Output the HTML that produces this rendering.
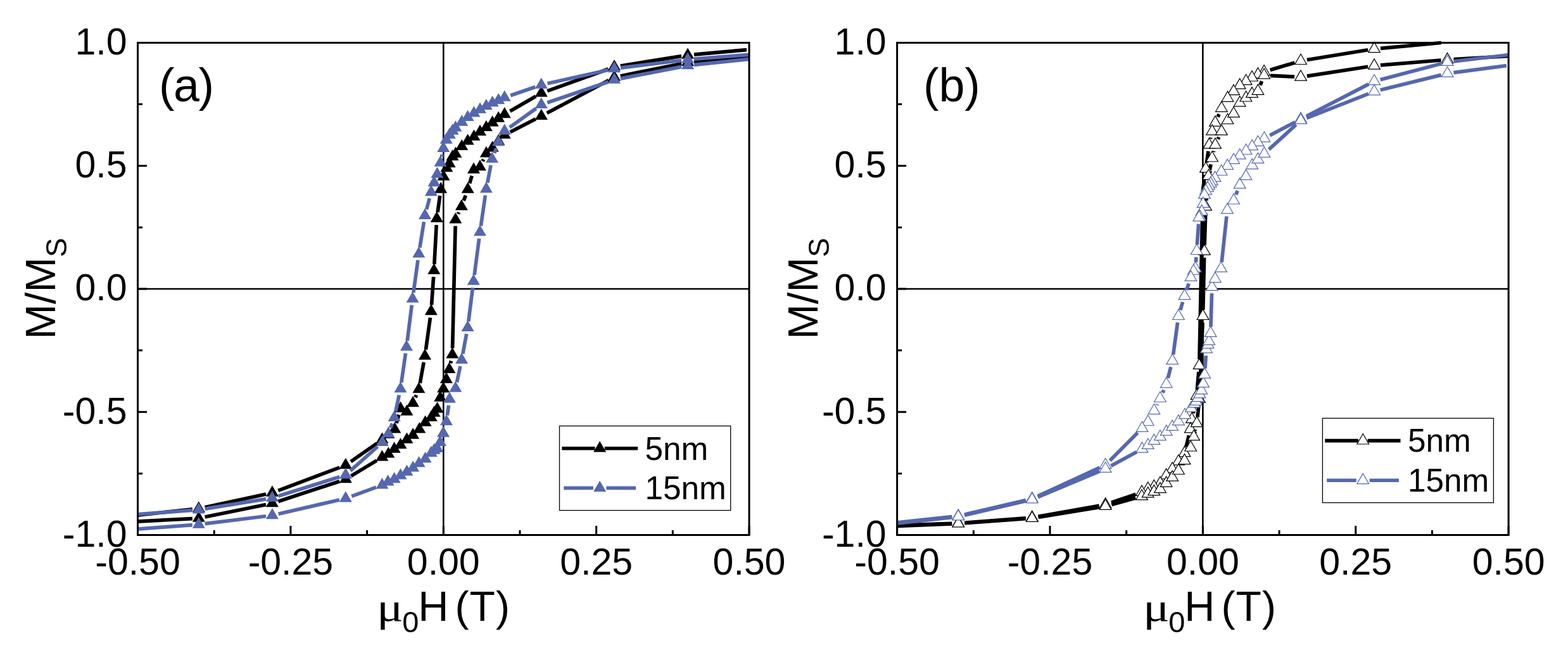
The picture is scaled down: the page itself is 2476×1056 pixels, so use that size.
<!DOCTYPE html>
<html><head><meta charset="utf-8"><title>M/Ms vs field</title>
<style>html,body{margin:0;padding:0;background:#fff;}svg{display:block;}</style>
</head><body>
<svg width="2476" height="1056" viewBox="0 0 2476 1056">
<rect width="100%" height="100%" fill="#fff"/>
<clipPath id="clipa"><rect x="217.5" y="0" width="965.5" height="1056"/></clipPath>
<line x1="217.5" y1="456" x2="1183" y2="456" stroke="#000" stroke-width="2.6"/>
<line x1="700.25" y1="67.5" x2="700.25" y2="844.5" stroke="#000" stroke-width="2.6"/>
<g clip-path="url(#clipa)">
<path d="M1179.04 78.6L1095.96 86.1M1076.13 88.58L979.87 104.02M960.59 108.98L864.21 143.62M846.14 152L805.36 175.5M698.29 288.77L698.21 289.13M694.73 308.81L691.07 335.19M689.16 355.09L685.84 417.01M684.6 436.98L681.5 481.42M679.42 501.3L672.38 552M669.2 571.74L663.2 604.66M657.47 623.7L655.93 627.3M629.79 654.63L626.01 668.07M595.21 699.73L553.99 728.57M536.44 737.82L439.26 774.38M420.12 780L323.58 800.7M303.86 803.87L200 815" fill="none" stroke="#000" stroke-width="5.7" stroke-linecap="butt"/>
<path d="M200 824L303.81 818.53M323.6 816.02L420.1 796.58M439.4 791.48L536.3 759.72M554.35 751.42L594.85 726.88M711.45 573.41L712.25 569.59M714.53 549.8L719.07 356.7M723.49 337.62L724.61 335.18M732.24 316.71L735.26 308.49M741.56 289.52L745.14 277.48M762.13 254.54L763.57 251.46M805.6 208.44L845.9 187.76M863.63 178.51L961.17 126.69M979.8 120.01L1076.2 100.49M1095.96 97.58L1200 88" fill="none" stroke="#000" stroke-width="5.7" stroke-linecap="butt"/>
<path d="M1086 75.45L1076 92.77L1096 92.77ZM970 94.05L960 111.37L980 111.37ZM854.8 135.45L844.8 152.77L864.8 152.77ZM796.7 168.95L786.7 186.27L806.7 186.27ZM787.1 175.45L777.1 192.77L797.1 192.77ZM777.6 182.25L767.6 199.57L787.6 199.57ZM767.8 189.65L757.8 206.97L777.8 206.97ZM758 196.75L748 214.07L768 214.07ZM748.4 204.55L738.4 221.87L758.4 221.87ZM738.6 211.25L728.6 228.57L748.6 228.57ZM729.2 219.75L719.2 237.07L739.2 237.07ZM719.4 231.55L709.4 248.87L729.4 248.87ZM714.5 235.95L704.5 253.27L724.5 253.27ZM709.6 246.85L699.6 264.17L719.6 264.17ZM705.3 253.95L695.3 271.27L715.3 271.27ZM700.4 267.45L690.4 284.77L710.4 284.77ZM696.1 287.35L686.1 304.67L706.1 304.67ZM689.7 333.55L679.7 350.87L699.7 350.87ZM685.3 415.45L675.3 432.77L695.3 432.77ZM680.8 479.85L670.8 497.17L690.8 497.17ZM671 550.35L661 567.67L681 567.67ZM661.4 602.95L651.4 620.27L671.4 620.27ZM652 624.95L642 642.27L662 642.27ZM642.4 638.45L632.4 655.77L652.4 655.77ZM632.5 633.45L622.5 650.77L642.5 650.77ZM623.3 666.15L613.3 683.47L633.3 683.47ZM613.3 674.45L603.3 691.77L623.3 691.77ZM603.4 682.45L593.4 699.77L613.4 699.77ZM545.8 722.75L535.8 740.07L555.8 740.07ZM429.9 766.35L419.9 783.67L439.9 783.67ZM313.8 791.25L303.8 808.57L323.8 808.57Z" fill="#000"/>
<path d="M313.8 806.45L303.8 823.77L323.8 823.77ZM429.9 783.05L419.9 800.37L439.9 800.37ZM545.8 745.05L535.8 762.37L555.8 762.37ZM603.4 710.15L593.4 727.47L613.4 727.47ZM613.3 705.15L603.3 722.47L623.3 722.47ZM622.6 697.35L612.6 714.67L632.6 714.67ZM632.5 690.95L622.5 708.27L642.5 708.27ZM642.4 682.45L632.4 699.77L652.4 699.77ZM652.1 675.35L642.1 692.67L662.1 692.67ZM662.3 666.15L652.3 683.47L672.3 683.47ZM671.6 655.45L661.6 672.77L681.6 672.77ZM680.8 647.65L670.8 664.97L690.8 664.97ZM685.5 640.45L675.5 657.77L695.5 657.77ZM690.5 634.15L680.5 651.47L700.5 651.47ZM695.2 616.45L685.2 633.77L705.2 633.77ZM700.1 602.25L690.1 619.57L710.1 619.57ZM704.8 587.35L694.8 604.67L714.8 604.67ZM709.4 571.65L699.4 588.97L719.4 588.97ZM714.3 548.25L704.3 565.57L724.3 565.57ZM719.3 335.15L709.3 352.47L729.3 352.47ZM728.8 314.55L718.8 331.87L738.8 331.87ZM738.7 287.55L728.7 304.87L748.7 304.87ZM748 256.35L738 273.67L758 273.67ZM757.9 252.05L747.9 269.37L767.9 269.37ZM767.8 230.85L757.8 248.17L777.8 248.17ZM777.6 222.25L767.6 239.57L787.6 239.57ZM787.1 211.45L777.1 228.77L797.1 228.77ZM796.7 201.45L786.7 218.77L806.7 218.77ZM854.8 171.65L844.8 188.97L864.8 188.97ZM970 110.45L960 127.77L980 127.77ZM1086 86.95L1076 104.27L1096 104.27Z" fill="#000"/>
<path d="M1200 85L1095.97 93.21M1076.08 95.23L979.92 107.17M960.24 110.57L864.56 131.83M845.34 137.25L806.16 150.75M698.18 243.99L697.52 247.21M678.23 313.06L673.57 330.64M669.41 350.17L662.89 390.83M659.93 410.61L652.87 461.89M650.25 481.72L643.15 537.78M640.48 557.6L633.82 603.9M630.29 623.57L624.71 649.43M619.19 668.6L616.71 675.4M596.32 704.93L553.28 743.07M536.26 752.69L439.44 783.01M420.03 787.59L323.67 803.11M303.83 805.43L200 813" fill="none" stroke="#5567AF" stroke-width="5.7" stroke-linecap="butt"/>
<path d="M200 836.3L303.83 828.64M323.72 826.67L419.98 814.73M439.64 811.26L536.06 789.04M555.19 783.36L594.01 769.14M706.29 655.7L708.51 639.9M721.42 603.33L726.88 578.07M730.83 558.47L736.67 527.03M739.76 507.28L746.54 454.02M749.09 434.18L756.61 376.52M759.34 356.7L766.36 308.3M769.71 288.58L775.09 260.82M780.57 241.66L783.53 233.94M804.84 200.99L846.66 171.11M864.26 162.07L960.54 129.23M979.82 124.1L1076.18 105.4M1095.95 102.45L1200 91.5" fill="none" stroke="#5567AF" stroke-width="5.7" stroke-linecap="butt"/>
<path d="M1086 82.45L1076 99.77L1096 99.77ZM970 96.85L960 114.17L980 114.17ZM854.8 122.45L844.8 139.77L864.8 139.77ZM796.7 142.45L786.7 159.77L806.7 159.77ZM787.1 146.95L777.1 164.27L797.1 164.27ZM777.6 150.95L767.6 168.27L787.6 168.27ZM767.8 155.95L757.8 173.27L777.8 173.27ZM758 161.45L748 178.77L768 178.77ZM748.4 167.15L738.4 184.47L758.4 184.47ZM738.6 173.75L728.6 191.07L748.6 191.07ZM729.2 181.35L719.2 198.67L739.2 198.67ZM719.4 190.15L709.4 207.47L729.4 207.47ZM714.5 195.15L704.5 212.47L724.5 212.47ZM709.8 201.45L699.8 218.77L719.8 218.77ZM704.7 209.35L694.7 226.67L714.7 226.67ZM700.2 222.65L690.2 239.97L710.2 239.97ZM695.5 245.45L685.5 262.77L705.5 262.77ZM690.4 263.45L680.4 280.77L700.4 280.77ZM685.5 276.95L675.5 294.27L695.5 294.27ZM680.8 291.85L670.8 309.17L690.8 309.17ZM671 328.75L661 346.07L681 346.07ZM661.3 389.15L651.3 406.47L671.3 406.47ZM651.5 460.25L641.5 477.57L661.5 477.57ZM641.9 536.15L631.9 553.47L651.9 553.47ZM632.4 602.25L622.4 619.57L642.4 619.57ZM622.6 647.65L612.6 664.97L632.6 664.97ZM613.3 673.25L603.3 690.57L623.3 690.57ZM603.8 686.75L593.8 704.07L613.8 704.07ZM545.8 738.15L535.8 755.47L555.8 755.47ZM429.9 774.45L419.9 791.77L439.9 791.77ZM313.8 793.15L303.8 810.47L323.8 810.47Z" fill="#5567AF"/>
<path d="M313.8 816.35L303.8 833.67L323.8 833.67ZM429.9 801.95L419.9 819.27L439.9 819.27ZM545.8 775.25L535.8 792.57L555.8 792.57ZM603.4 754.15L593.4 771.47L613.4 771.47ZM612.6 749.25L602.6 766.57L622.6 766.57ZM622.6 744.95L612.6 762.27L632.6 762.27ZM632.5 739.25L622.5 756.57L642.5 756.57ZM642.4 733.55L632.4 750.87L652.4 750.87ZM652.1 727.15L642.1 744.47L662.1 744.47ZM661.6 720.05L651.6 737.37L671.6 737.37ZM671.6 712.95L661.6 730.27L681.6 730.27ZM680.8 703.75L670.8 721.07L690.8 721.07ZM685.5 699.45L675.5 716.77L695.5 716.77ZM690.5 696.65L680.5 713.97L700.5 713.97ZM695 686.75L685 704.07L705 704.07ZM700 672.55L690 689.87L710 689.87ZM704.9 654.05L694.9 671.37L714.9 671.37ZM709.9 618.45L699.9 635.77L719.9 635.77ZM719.3 601.55L709.3 618.87L729.3 618.87ZM729 556.75L719 574.07L739 574.07ZM738.5 505.65L728.5 522.97L748.5 522.97ZM747.8 432.55L737.8 449.87L757.8 449.87ZM757.9 355.05L747.9 372.37L767.9 372.37ZM767.8 286.85L757.8 304.17L777.8 304.17ZM777 239.45L767 256.77L787 256.77ZM787.1 213.05L777.1 230.37L797.1 230.37ZM796.7 195.25L786.7 212.57L806.7 212.57ZM854.8 153.75L844.8 171.07L864.8 171.07ZM970 114.45L960 131.77L980 131.77ZM1086 91.95L1076 109.27L1096 109.27Z" fill="#5567AF"/>
</g>
<rect x="217.5" y="67.5" width="965.5" height="777" fill="none" stroke="#000" stroke-width="3"/>
<path d="M217.5 844.5V830M338.19 844.5V837M458.88 844.5V830M579.56 844.5V837M700.25 844.5V830M820.94 844.5V837M941.62 844.5V830M1062.31 844.5V837M1183 844.5V830M217.5 844.5H232M217.5 747.38H225M217.5 650.25H232M217.5 553.12H225M217.5 456H232M217.5 358.88H225M217.5 261.75H232M217.5 164.62H225M217.5 67.5H232" stroke="#000" stroke-width="3" fill="none"/>
<g font-family="Liberation Sans, Arial, sans-serif" font-size="59" fill="#000">
<text x="200.5" y="85.8" text-anchor="end">1.0</text>
<text x="200.5" y="280.05" text-anchor="end">0.5</text>
<text x="200.5" y="474.3" text-anchor="end">0.0</text>
<text x="200.5" y="668.55" text-anchor="end">-0.5</text>
<text x="200.5" y="862.8" text-anchor="end">-1.0</text>
<text x="217.5" y="907" text-anchor="middle">-0.50</text>
<text x="458.88" y="907" text-anchor="middle">-0.25</text>
<text x="700.25" y="907" text-anchor="middle">0.00</text>
<text x="941.62" y="907" text-anchor="middle">0.25</text>
<text x="1183" y="907" text-anchor="middle">0.50</text>
</g>
<text transform="translate(87.1,535.5) rotate(-90)" font-family="Liberation Sans, Arial, sans-serif" font-size="66.6" fill="#000">M/M<tspan font-size="46" dy="18">S</tspan></text>
<g font-family="Liberation Sans, Arial, sans-serif" fill="#000">
<text transform="translate(594.9,980) scale(1.18,0.95)" font-family="Liberation Serif, serif" font-size="66">μ</text>
<text x="635.3" y="998.3" font-size="47">0</text>
<text x="660.3" y="979.9" font-size="66.6">H</text>
<text x="718.5" y="979.9" font-size="66">(</text>
<text x="741.4" y="979.9" font-size="66">T</text>
<text x="783" y="979.9" font-size="66">)</text>
</g>
<text x="251" y="159.5" font-family="Liberation Sans, Arial, sans-serif" font-size="73.5" letter-spacing="-1.4" fill="#000">(a)</text>
<rect x="883.5" y="672.4" width="270.2" height="133.2" fill="#fff" stroke="#000" stroke-width="1.3"/>
<path d="M887.3 707.8L939.5 707.8M954.7 707.8L1007.1 707.8" fill="none" stroke="#000" stroke-width="5.6" stroke-linecap="butt"/>
<path d="M890.3 770.4L936.8 770.32M957.4 770.32L1004 770.4" fill="none" stroke="#5567AF" stroke-width="5.6" stroke-linecap="butt"/>
<path d="M947.1 696.25L937.1 713.57L957.1 713.57Z" fill="#000"/>
<path d="M947.1 758.75L937.1 776.07L957.1 776.07Z" fill="#5567AF"/>
<g font-family="Liberation Sans, Arial, sans-serif" font-size="51.3" fill="#000"><text x="1018.4" y="725.8">5nm</text><text x="1018.5" y="787.9">15nm</text></g>
<clipPath id="clipb"><rect x="1416.6" y="0" width="965.5" height="1056"/></clipPath>
<line x1="1416.6" y1="456" x2="2382.1" y2="456" stroke="#000" stroke-width="2.6"/>
<line x1="1899.35" y1="67.5" x2="1899.35" y2="844.5" stroke="#000" stroke-width="2.6"/>
<g clip-path="url(#clipb)">
<path d="M2275.84 67.51L2179.96 76.29M2160.13 78.81L2063.87 94.49M2044.42 98.96L2005.68 110.54M1924.92 180.07L1922.98 184.53M1911.88 217.27L1911.52 218.93M1907.99 238.6L1905.41 256.6M1902.67 276.41L1899.5 300M1899.5 300L1893.91 567M1892.83 586.96L1890.37 615.04M1887.51 634.8L1883.99 652.2M1877.4 687.21L1872.9 705.49M1793.54 780.13L1755.06 793.27M1735.75 798.24L1639.55 815.26M1619.73 817.77L1523.17 825.23M1503.2 826.31L1400 829.5" fill="none" stroke="#000" stroke-width="5.7" stroke-linecap="butt"/>
<path d="M1400 831L1503.21 826.9M1523.17 825.77L1619.73 818.73M1639.57 816.38L1735.73 800.62M1755.25 796.39L1793.35 786.11M1874.76 718.15L1875.94 715.65M1887.26 679.74L1887.64 678.06M1890.89 658.36L1892.91 639.94M1894.42 620.01L1899.08 509.09M1899.72 489.1L1901.58 406.8M1902.11 386.8L1903.69 336.5M1904.88 316.54L1907.42 287.96M1910.27 268.2L1912.03 259.4M1916.33 239.87L1916.67 238.43M1923.23 219.64L1924.67 216.56M1990 134.57L1992.5 128.13M2006.09 119.3L2044.01 121.2M2063.88 120.17L2160.12 105.23M2179.97 102.88L2275.53 95.02M2295.48 93.62L2400 87.5" fill="none" stroke="#000" stroke-width="5.7" stroke-linecap="butt"/>
<g fill="#fff" stroke="#000" stroke-width="1.2" stroke-linejoin="miter"><path d="M2170 66.4L2160.65 82.59L2179.35 82.59Z"/><path d="M2054 85.3L2044.65 101.49L2063.35 101.49Z"/><path d="M1996.1 102.6L1986.75 118.79L2005.45 118.79Z"/><path d="M1986.4 106.9L1977.05 123.09L1995.75 123.09Z"/><path d="M1977 111.8L1967.65 127.99L1986.35 127.99Z"/><path d="M1967.5 117.5L1958.15 133.69L1976.85 133.69Z"/><path d="M1957.7 123.9L1948.35 140.09L1967.05 140.09Z"/><path d="M1948 133.4L1938.65 149.59L1957.35 149.59Z"/><path d="M1938.5 144.1L1929.15 160.29L1947.85 160.29Z"/><path d="M1928.9 160.1L1919.55 176.29L1938.25 176.29Z"/><path d="M1919 182.9L1909.65 199.09L1928.35 199.09Z"/><path d="M1914 196.7L1904.65 212.89L1923.35 212.89Z"/><path d="M1909.4 217.9L1900.05 234.09L1918.75 234.09Z"/><path d="M1904 255.7L1894.65 271.89L1913.35 271.89Z"/><path d="M1893.7 566.2L1884.35 582.39L1903.05 582.39Z"/><path d="M1889.5 614.2L1880.15 630.39L1898.85 630.39Z"/><path d="M1882 651.2L1872.65 667.39L1891.35 667.39Z"/><path d="M1879.8 666.7L1870.45 682.89L1889.15 682.89Z"/><path d="M1870.5 704.4L1861.15 720.59L1879.85 720.59Z"/><path d="M1860.9 717.7L1851.55 733.89L1870.25 733.89Z"/><path d="M1851.2 729.6L1841.85 745.79L1860.55 745.79Z"/><path d="M1841.6 739.6L1832.25 755.79L1850.95 755.79Z"/><path d="M1832 752.1L1822.65 768.29L1841.35 768.29Z"/><path d="M1822.3 757.4L1812.95 773.59L1831.65 773.59Z"/><path d="M1812.7 760.8L1803.35 776.99L1822.05 776.99Z"/><path d="M1803 766.1L1793.65 782.29L1812.35 782.29Z"/><path d="M1745.6 785.7L1736.25 801.89L1754.95 801.89Z"/><path d="M1629.7 806.2L1620.35 822.39L1639.05 822.39Z"/><path d="M1513.2 815.2L1503.85 831.39L1522.55 831.39Z"/></g>
<g fill="#fff" stroke="#000" stroke-width="1.2" stroke-linejoin="miter"><path d="M1513.2 815.7L1503.85 831.89L1522.55 831.89Z"/><path d="M1629.7 807.2L1620.35 823.39L1639.05 823.39Z"/><path d="M1745.6 788.2L1736.25 804.39L1754.95 804.39Z"/><path d="M1803 772.7L1793.65 788.89L1812.35 788.89Z"/><path d="M1812.7 768.7L1803.35 784.89L1822.05 784.89Z"/><path d="M1822.3 765.4L1812.95 781.59L1831.65 781.59Z"/><path d="M1832 761.4L1822.65 777.59L1841.35 777.59Z"/><path d="M1841.6 752.1L1832.25 768.29L1850.95 768.29Z"/><path d="M1851.2 742.9L1841.85 759.09L1860.55 759.09Z"/><path d="M1860.9 732.3L1851.55 748.49L1870.25 748.49Z"/><path d="M1870.5 716.4L1861.15 732.59L1879.85 732.59Z"/><path d="M1880.2 695.8L1870.85 711.99L1889.55 711.99Z"/><path d="M1885.1 678.7L1875.75 694.89L1894.45 694.89Z"/><path d="M1889.8 657.5L1880.45 673.69L1899.15 673.69Z"/><path d="M1894 619.2L1884.65 635.39L1903.35 635.39Z"/><path d="M1899.5 488.3L1890.15 504.49L1908.85 504.49Z"/><path d="M1901.8 386L1892.45 402.19L1911.15 402.19Z"/><path d="M1904 315.7L1894.65 331.89L1913.35 331.89Z"/><path d="M1908.3 267.2L1898.95 283.39L1917.65 283.39Z"/><path d="M1914 238.8L1904.65 254.99L1923.35 254.99Z"/><path d="M1919 217.9L1909.65 234.09L1928.35 234.09Z"/><path d="M1928.9 196.7L1919.55 212.89L1938.25 212.89Z"/><path d="M1938.5 179.3L1929.15 195.49L1947.85 195.49Z"/><path d="M1948 168.7L1938.65 184.89L1957.35 184.89Z"/><path d="M1957.7 151.6L1948.35 167.79L1967.05 167.79Z"/><path d="M1967.5 143.8L1958.15 159.99L1976.85 159.99Z"/><path d="M1977 137.4L1967.65 153.59L1986.35 153.59Z"/><path d="M1986.4 133.1L1977.05 149.29L1995.75 149.29Z"/><path d="M1996.1 108L1986.75 124.19L2005.45 124.19Z"/><path d="M2054 110.9L2044.65 127.09L2063.35 127.09Z"/><path d="M2170 92.9L2160.65 109.09L2179.35 109.09Z"/><path d="M2285.5 83.4L2276.15 99.59L2294.85 99.59Z"/></g>
<path d="M2400 84.5L2295.43 96.83M2275.83 100.54L2179.67 125.76M2161.11 132.88L2062.89 183.42M2045.16 192.68L2005.24 213.82M1892.62 353.48L1890.38 386.12M1888.94 406.07L1888.36 413.83M1877.26 447.46L1873.74 457.74M1867.62 476.78L1863.78 489.52M1859.55 509.01L1852.65 559.59M1848.81 579.18L1844.29 596.72M1837.8 615.57L1835.9 619.93M1827.47 638.06L1826.83 639.34M1796.44 683.08L1752.66 726.92M1736.51 738.18L1638.79 783.12M1619.96 789.57L1522.94 812.23M1503.26 815.55L1400 826.5" fill="none" stroke="#5567AF" stroke-width="5.7" stroke-linecap="butt"/>
<path d="M1400 828L1503.26 816.6M1522.94 813.24L1619.96 790.76M1638.92 784.64L1736.38 743.86M1754.4 735.24L1794.7 713.46M1902.9 581.52L1904.3 561.38M1911.9 516L1913.5 463M1929.17 413.86L1936.93 341.44M1951.7 307.27L1954.1 301.03M2003.78 235.95L2046.62 196.75M2063.31 186.34L2160.69 148.06M2179.71 142.01L2275.79 118.39M2295.41 114.68L2378.79 103.62" fill="none" stroke="#5567AF" stroke-width="5.7" stroke-linecap="butt"/>
<g fill="#fff" stroke="#5567AF" stroke-width="1.2" stroke-linejoin="miter"><path d="M2285.5 87.2L2276.15 103.39L2294.85 103.39Z"/><path d="M2170 117.5L2160.65 133.69L2179.35 133.69Z"/><path d="M2054 177.2L2044.65 193.39L2063.35 193.39Z"/><path d="M1996.4 207.7L1987.05 223.89L2005.75 223.89Z"/><path d="M1986.4 214.1L1977.05 230.29L1995.75 230.29Z"/><path d="M1977.2 220.5L1967.85 236.69L1986.55 236.69Z"/><path d="M1967.5 227.3L1958.15 243.49L1976.85 243.49Z"/><path d="M1957.7 234.7L1948.35 250.89L1967.05 250.89Z"/><path d="M1948.1 242.1L1938.75 258.29L1957.45 258.29Z"/><path d="M1938.1 251.1L1928.75 267.29L1947.45 267.29Z"/><path d="M1928.6 260.3L1919.25 276.49L1937.95 276.49Z"/><path d="M1918.5 270.2L1909.15 286.39L1927.85 286.39Z"/><path d="M1913.8 275.7L1904.45 291.89L1923.15 291.89Z"/><path d="M1911.7 279.1L1902.35 295.29L1921.05 295.29Z"/><path d="M1909.1 282.5L1899.75 298.69L1918.45 298.69Z"/><path d="M1907 286.3L1897.65 302.49L1916.35 302.49Z"/><path d="M1904 290.6L1894.65 306.79L1913.35 306.79Z"/><path d="M1901.9 297L1892.55 313.19L1911.25 313.19Z"/><path d="M1899.7 311.1L1890.35 327.29L1909.05 327.29Z"/><path d="M1897.6 323.4L1888.25 339.59L1906.95 339.59Z"/><path d="M1894.6 331.2L1885.25 347.39L1903.95 347.39Z"/><path d="M1893.3 332.7L1883.95 348.89L1902.65 348.89Z"/><path d="M1889.7 385.3L1880.35 401.49L1899.05 401.49Z"/><path d="M1887.6 413L1878.25 429.19L1896.95 429.19Z"/><path d="M1884.7 417.3L1875.35 433.49L1894.05 433.49Z"/><path d="M1880.5 427.2L1871.15 443.39L1889.85 443.39Z"/><path d="M1870.5 456.4L1861.15 472.59L1879.85 472.59Z"/><path d="M1860.9 488.3L1851.55 504.49L1870.25 504.49Z"/><path d="M1851.3 558.7L1841.95 574.89L1860.65 574.89Z"/><path d="M1841.8 595.6L1832.45 611.79L1851.15 611.79Z"/><path d="M1831.9 618.3L1822.55 634.49L1841.25 634.49Z"/><path d="M1822.4 637.5L1813.05 653.69L1831.75 653.69Z"/><path d="M1812.7 655.3L1803.35 671.49L1822.05 671.49Z"/><path d="M1803.5 665.2L1794.15 681.39L1812.85 681.39Z"/><path d="M1745.6 723.2L1736.25 739.39L1754.95 739.39Z"/><path d="M1629.7 776.5L1620.35 792.69L1639.05 792.69Z"/><path d="M1513.2 803.7L1503.85 819.89L1522.55 819.89Z"/></g>
<g fill="#fff" stroke="#5567AF" stroke-width="1.2" stroke-linejoin="miter"><path d="M1513.2 804.7L1503.85 820.89L1522.55 820.89Z"/><path d="M1629.7 777.7L1620.35 793.89L1639.05 793.89Z"/><path d="M1745.6 729.2L1736.25 745.39L1754.95 745.39Z"/><path d="M1803.5 697.9L1794.15 714.09L1812.85 714.09Z"/><path d="M1812.7 692.2L1803.35 708.39L1822.05 708.39Z"/><path d="M1822.4 685.1L1813.05 701.29L1831.75 701.29Z"/><path d="M1831.9 678.7L1822.55 694.89L1841.25 694.89Z"/><path d="M1841.8 670.9L1832.45 687.09L1851.15 687.09Z"/><path d="M1851.1 663.1L1841.75 679.29L1860.45 679.29Z"/><path d="M1861 654.6L1851.65 670.79L1870.35 670.79Z"/><path d="M1871 644.5L1861.65 660.69L1880.35 660.69Z"/><path d="M1880.9 633.7L1871.55 649.89L1890.25 649.89Z"/><path d="M1885.9 626.6L1876.55 642.79L1895.25 642.79Z"/><path d="M1888.7 623.1L1879.35 639.29L1898.05 639.29Z"/><path d="M1891.6 617.4L1882.25 633.59L1900.95 633.59Z"/><path d="M1894.4 611.7L1885.05 627.89L1903.75 627.89Z"/><path d="M1897.2 605.7L1887.85 621.89L1906.55 621.89Z"/><path d="M1900.1 594.9L1890.75 611.09L1909.45 611.09Z"/><path d="M1902.2 580.7L1892.85 596.89L1911.55 596.89Z"/><path d="M1905 540.6L1895.65 556.79L1914.35 556.79Z"/><path d="M1907.5 533.5L1898.15 549.69L1916.85 549.69Z"/><path d="M1909.2 527.9L1899.85 544.09L1918.55 544.09Z"/><path d="M1911.6 515.2L1902.25 531.39L1920.95 531.39Z"/><path d="M1913.8 442.2L1904.45 458.39L1923.15 458.39Z"/><path d="M1918.8 429.4L1909.45 445.59L1928.15 445.59Z"/><path d="M1928.1 413L1918.75 429.19L1937.45 429.19Z"/><path d="M1938 320.7L1928.65 336.89L1947.35 336.89Z"/><path d="M1948.1 305.8L1938.75 321.99L1957.45 321.99Z"/><path d="M1957.7 280.9L1948.35 297.09L1967.05 297.09Z"/><path d="M1967.5 267.4L1958.15 283.59L1976.85 283.59Z"/><path d="M1977.2 250.4L1967.85 266.59L1986.55 266.59Z"/><path d="M1986.4 241.1L1977.05 257.29L1995.75 257.29Z"/><path d="M1996.4 231.9L1987.05 248.09L2005.75 248.09Z"/><path d="M2054 179.2L2044.65 195.39L2063.35 195.39Z"/><path d="M2170 133.6L2160.65 149.79L2179.35 149.79Z"/><path d="M2285.5 105.2L2276.15 121.39L2294.85 121.39Z"/></g>
</g>
<rect x="1416.6" y="67.5" width="965.5" height="777" fill="none" stroke="#000" stroke-width="3"/>
<path d="M1416.6 844.5V830M1537.29 844.5V837M1657.97 844.5V830M1778.66 844.5V837M1899.35 844.5V830M2020.04 844.5V837M2140.72 844.5V830M2261.41 844.5V837M2382.1 844.5V830M1416.6 844.5H1431.1M1416.6 747.38H1424.1M1416.6 650.25H1431.1M1416.6 553.12H1424.1M1416.6 456H1431.1M1416.6 358.88H1424.1M1416.6 261.75H1431.1M1416.6 164.62H1424.1M1416.6 67.5H1431.1" stroke="#000" stroke-width="3" fill="none"/>
<g font-family="Liberation Sans, Arial, sans-serif" font-size="59" fill="#000">
<text x="1399.6" y="85.8" text-anchor="end">1.0</text>
<text x="1399.6" y="280.05" text-anchor="end">0.5</text>
<text x="1399.6" y="474.3" text-anchor="end">0.0</text>
<text x="1399.6" y="668.55" text-anchor="end">-0.5</text>
<text x="1399.6" y="862.8" text-anchor="end">-1.0</text>
<text x="1416.6" y="907" text-anchor="middle">-0.50</text>
<text x="1657.97" y="907" text-anchor="middle">-0.25</text>
<text x="1899.35" y="907" text-anchor="middle">0.00</text>
<text x="2140.72" y="907" text-anchor="middle">0.25</text>
<text x="2382.1" y="907" text-anchor="middle">0.50</text>
</g>
<text transform="translate(1291.3,535.5) rotate(-90)" font-family="Liberation Sans, Arial, sans-serif" font-size="66.6" fill="#000">M/M<tspan font-size="46" dy="18">S</tspan></text>
<g font-family="Liberation Sans, Arial, sans-serif" fill="#000">
<text transform="translate(1804.9,980) scale(1.18,0.95)" font-family="Liberation Serif, serif" font-size="66">μ</text>
<text x="1845.3" y="998.3" font-size="47">0</text>
<text x="1870.3" y="979.9" font-size="66.6">H</text>
<text x="1928.5" y="979.9" font-size="66">(</text>
<text x="1951.4" y="979.9" font-size="66">T</text>
<text x="1993" y="979.9" font-size="66">)</text>
</g>
<text x="1458" y="159.5" font-family="Liberation Sans, Arial, sans-serif" font-size="73.5" fill="#000">(b)</text>
<rect x="2088.4" y="660.2" width="270" height="133.3" fill="#fff" stroke="#000" stroke-width="1.3"/>
<path d="M2092.2 695.6L2144.8 695.6M2159.6 695.6L2211.5 695.6" fill="none" stroke="#000" stroke-width="5.6" stroke-linecap="butt"/>
<path d="M2095.2 758.2L2141.7 758.2M2162.7 758.2L2208.9 758.2" fill="none" stroke="#5567AF" stroke-width="5.6" stroke-linecap="butt"/>
<g fill="#fff" stroke="#000" stroke-width="1.2" stroke-linejoin="miter"><path d="M2152.2 684.8L2142.85 700.99L2161.55 700.99Z"/></g>
<g fill="#fff" stroke="#5567AF" stroke-width="1.2" stroke-linejoin="miter"><path d="M2152.2 747.4L2142.85 763.59L2161.55 763.59Z"/></g>
<g font-family="Liberation Sans, Arial, sans-serif" font-size="51.3" fill="#000"><text x="2222.9" y="713.4">5nm</text><text x="2222.9" y="776.1">15nm</text></g>
</svg>
</body></html>
